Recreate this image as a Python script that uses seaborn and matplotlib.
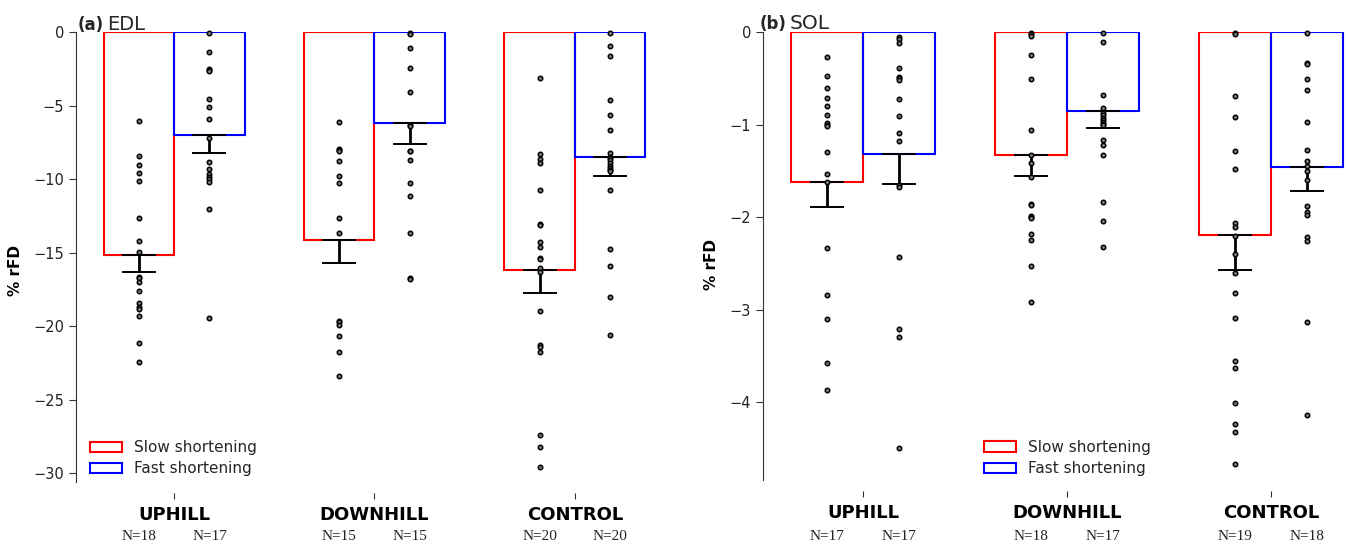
import matplotlib
matplotlib.use("Agg")
import matplotlib.pyplot as plt
import matplotlib.patches as mpatches
import numpy as np
import pandas as pd
import seaborn as sns

groups = ["UPHILL", "DOWNHILL", "CONTROL"]
speeds = ["Slow shortening", "Fast shortening"]
colors = ["red", "blue"]

# panel (a) EDL
edl_mean_slow = [-15.16, -14.14, -16.18]
edl_mean_fast = [-7.0, -6.21, -8.52]
edl_sem_slow = [1.16, 1.54, 1.59]
edl_sem_fast = [1.22, 1.43, 1.27]
edl_n_slow = [18, 15, 20]
edl_n_fast = [17, 15, 20]
edl_up_slow = [-6.04, -8.45, -9.05, -9.56, -10.16, -12.68, -14.18, -14.99, -16.65,
               -16.7, -17.0, -17.6, -18.41, -18.71, -18.81, -19.32, -21.13, -22.43]
edl_up_fast = [-0.05, -1.34, -2.54, -2.57, -2.62, -4.58, -5.12, -5.94, -7.22, -8.81,
               -9.34, -9.65, -9.83, -10.01, -10.22, -12.03, -19.42]
edl_down_slow = [-6.1, -7.98, -8.0, -8.09, -8.77, -9.77, -10.28, -12.63, -13.64,
                 -19.65, -19.75, -19.92, -20.64, -21.77, -23.36]
edl_down_fast = [-0.05, -0.16, -1.07, -2.42, -4.1, -6.35, -6.42, -8.09, -8.12,
                 -8.72, -10.24, -11.15, -13.64, -16.74, -16.8]
edl_ctrl_slow = [-3.13, -8.29, -8.65, -8.92, -10.76, -13.05, -13.14, -14.29, -14.62,
                 -15.39, -15.45, -16.07, -16.3, -18.96, -21.28, -21.43, -21.73,
                 -27.39, -28.23, -29.58]
edl_ctrl_fast = [-0.04, -0.93, -1.61, -4.63, -5.62, -6.64, -8.2, -8.47, -8.55, -8.7,
                 -8.92, -9.1, -9.25, -9.38, -9.45, -10.74, -14.75, -15.88, -17.99, -20.62]

# panel (b) SOL
sol_mean_slow = [-1.62, -1.33, -2.19]
sol_mean_fast = [-1.32, -0.85, -1.455]
sol_sem_slow = [0.275, 0.227, 0.378]
sol_sem_fast = [0.325, 0.184, 0.262]
sol_n_slow = [17, 18, 19]
sol_n_fast = [17, 17, 18]
sol_up_slow = [-0.27, -0.47, -0.6, -0.71, -0.8, -0.9, -0.98, -1.0, -1.02, -1.3,
               -1.53, -1.62, -2.33, -2.84, -3.1, -3.58, -3.87]
sol_up_fast = [-0.05, -0.08, -0.12, -0.39, -0.49, -0.5, -0.52, -0.72, -0.91, -1.09,
               -1.18, -1.65, -1.67, -2.43, -3.21, -3.3, -4.49]
sol_down_slow = [-0.01, -0.02, -0.04, -0.25, -0.51, -1.06, -1.33, -1.41, -1.57,
                 -1.86, -1.87, -1.99, -2.0, -2.01, -2.18, -2.25, -2.53, -2.92]
sol_down_fast = [-0.01, -0.11, -0.68, -0.82, -0.87, -0.9, -0.93, -0.95, -0.975,
                 -0.99, -1.0, -1.17, -1.22, -1.33, -1.84, -2.04, -2.32]
sol_ctrl_slow = [-0.01, -0.02, -0.69, -0.92, -1.29, -1.48, -2.06, -2.11, -2.2, -2.4,
                 -2.6, -2.82, -3.09, -3.55, -3.63, -4.01, -4.23, -4.32, -4.67]
sol_ctrl_fast = [-0.01, -0.33, -0.35, -0.51, -0.63, -0.975, -1.28, -1.39, -1.45, -1.5,
                 -1.6, -1.885, -1.95, -1.98, -2.21, -2.26, -3.13, -4.14]

sns.set_style("ticks")
plt.rcParams["font.family"] = ["DejaVu Sans"]


def draw_panel(ax, means, sems, dots, ns, ylim, yticks, xlim, n_offset):
    bars = pd.DataFrame({
        "group": groups * 2,
        "speed": [speeds[0]] * 3 + [speeds[1]] * 3,
        "value": means[0] + means[1],
    })
    sns.barplot(data=bars, x="group", y="value", hue="speed", order=groups,
                hue_order=speeds, palette=colors, fill=False, width=0.705,
                linewidth=1.5, errorbar=None, legend=False, ax=ax)
    # copy the bar containers before errorbar() adds more
    bar_conts = list(ax.containers)
    for k, cont in enumerate(bar_conts):
        for i, bar in enumerate(cont.patches):
            x = bar.get_x() + bar.get_width() / 2
            ax.errorbar(x, means[k][i], yerr=[[sems[k][i]], [0]], fmt="none",
                        ecolor="black", elinewidth=2.0, capsize=12.5,
                        capthick=1.4, zorder=3)
            vals = dots[k][i]
            ax.plot([x] * len(vals), vals, "o", ms=3.2, mfc="#808080",
                    mec="black", mew=1.1, zorder=4, clip_on=False)
            ax.annotate(f"N={ns[k][i]}", xy=(x, 0), xycoords=ax.get_xaxis_transform(),
                        xytext=(0, -n_offset * 0.72), textcoords="offset points",
                        ha="center", va="center", family="Liberation Serif",
                        fontsize=11, color="#222222")
    ax.set_ylim(*ylim)
    ax.set_xlim(*xlim)
    ax.set_yticks(yticks)
    ax.set_xlabel("")
    ax.set_ylabel("% rFD", fontweight="bold", fontsize=11, color="black")
    ax.spines[["top", "right"]].set_visible(False)
    ax.spines["bottom"].set_position(("outward", 8))
    ax.spines["bottom"].set_visible(False)
    ax.spines["left"].set_color("#333333")
    ax.tick_params(axis="y", labelsize=10.5, length=5, color="#333333",
                   labelcolor="#222222")
    ax.tick_params(axis="x", length=4, pad=5, color="#333333", labelcolor="black")
    for lab in ax.get_xticklabels():
        lab.set_fontweight("bold")
        lab.set_fontsize(13)


fig = plt.figure(figsize=(13.47, 5.45), dpi=100)
ax_a = fig.add_axes([76 / 1347, 1 - 482 / 545, 599 / 1347, 450 / 545])
ax_b = fig.add_axes([763 / 1347, 1 - 480 / 545, 583.5 / 1347, 448 / 545])

draw_panel(ax_a, [edl_mean_slow, edl_mean_fast], [edl_sem_slow, edl_sem_fast],
           [[edl_up_slow, edl_down_slow, edl_ctrl_slow],
            [edl_up_fast, edl_down_fast, edl_ctrl_fast]],
           [edl_n_slow, edl_n_fast], (-30.6, 0), [0, -5, -10, -15, -20, -25, -30],
           (-0.49, 2.5), 54)
draw_panel(ax_b, [sol_mean_slow, sol_mean_fast], [sol_sem_slow, sol_sem_fast],
           [[sol_up_slow, sol_down_slow, sol_ctrl_slow],
            [sol_up_fast, sol_down_fast, sol_ctrl_fast]],
           [sol_n_slow, sol_n_fast], (-4.84, 0), [0, -1, -2, -3, -4],
           (-0.49, 2.37), 56)

ax_a.yaxis.set_label_coords(-0.0885, 0.47)
ax_b.yaxis.set_label_coords(-0.0754, 0.48)

handles = [mpatches.Patch(facecolor="none", edgecolor=c, linewidth=1.5, label=s)
           for c, s in zip(colors, speeds)]
for ax, anchor in [(ax_a, (0.0234, 0.013)), (ax_b, (0.379, 0.009))]:
    ax.legend(handles=handles, loc="lower left", bbox_to_anchor=anchor,
              frameon=False, fontsize=11, handlelength=2.1, handleheight=0.65,
              handletextpad=0.75, labelspacing=0.4, borderpad=0, borderaxespad=0)

fig.text(78 / 1347, 1 - 30 / 545, "(a)", fontweight="bold", fontsize=12, va="baseline")
fig.text(107 / 1347, 1 - 30 / 545, "EDL", fontsize=14, va="baseline")
fig.text(760 / 1347, 1 - 29 / 545, "(b)", fontweight="bold", fontsize=12, va="baseline")
fig.text(790 / 1347, 1 - 29 / 545, "SOL", fontsize=14.5, va="baseline")

fig.savefig("out.png", dpi=100)
